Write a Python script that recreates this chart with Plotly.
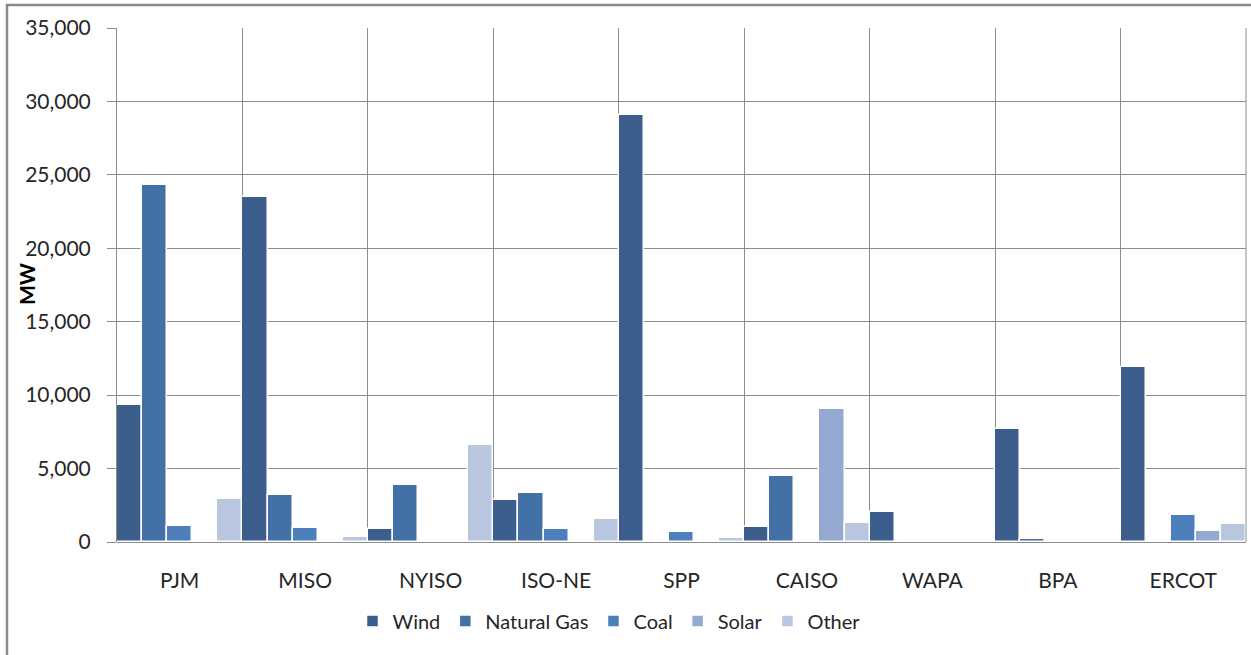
import plotly.graph_objects as go

regions = ["PJM", "MISO", "NYISO", "ISO-NE", "SPP", "CAISO", "WAPA", "BPA", "ERCOT"]
wind        = [9300, 23500, 870, 2860, 29100, 1040, 2020, 7670, 11900]
natural_gas = [24300, 3200, 3860, 3360, 0, 4520, 0, 180, 0]
coal        = [1100, 930, 0, 870, 700, 0, 0, 0, 1840]
solar       = [0, 0, 0, 0, 0, 9080, 0, 0, 770]
other       = [2950, 350, 6580, 1550, 290, 1290, 0, 80, 1200]

series = [
    ("Wind", wind, "#3B5E8C"),
    ("Natural Gas", natural_gas, "#4371A6"),
    ("Coal", coal, "#4D7FBD"),
    ("Solar", solar, "#94A9D1"),
    ("Other", other, "#B8C6E0"),
]

FONT = "Lato, 'Open Sans', sans-serif"

fig = go.Figure()
for name, vals, color in series:
    fig.add_trace(go.Bar(
        name=name, x=regions, y=vals,
        marker=dict(color=color, line=dict(color="white", width=1.5)),
    ))

W, H = 1251, 655
L, R, T, B = 117, 5, 28, 113
pw, ph = W - L - R, H - T - B

def px_x(x):
    return (x - L) / pw

def px_y(y):
    return (H - B - y) / ph

fig.update_layout(
    width=W, height=H,
    margin=dict(l=L, r=R, t=T, b=B, pad=0),
    paper_bgcolor="white", plot_bgcolor="white",
    barmode="group", bargap=0, bargroupgap=0,
    font=dict(family=FONT, size=21, color="#262626"),
    legend=dict(
        orientation="h", x=px_x(609), xanchor="center",
        y=px_y(621), yanchor="middle",
        font=dict(size=20, color="#262626"),
        itemwidth=30, traceorder="normal",
    ),
    xaxis=dict(
        type="category", tickson="boundaries",
        showgrid=True, gridcolor="#8C8C8C", gridwidth=1,
        showline=False, ticks="", ticklabelstandoff=24,
        tickfont=dict(size=21, color="#262626"),
    ),
    yaxis=dict(
        range=[0, 35000], dtick=5000, tickformat=",",
        showgrid=True, gridcolor="#8C8C8C", gridwidth=1,
        showline=True, linecolor="#8C8C8C", linewidth=1,
        ticks="outside", ticklen=9, tickcolor="#8C8C8C",
        ticklabelstandoff=12,
        tickfont=dict(size=21, color="#262626"),
        zeroline=True, zerolinecolor="#8C8C8C", zerolinewidth=1,
    ),
    annotations=[
        dict(text="<b>MW</b>", xref="paper", yref="paper",
             x=px_x(26), y=px_y(284), xanchor="center", yanchor="middle",
             textangle=-90, showarrow=False,
             font=dict(size=21, color="#000000", family=FONT)),
    ],
    shapes=[
        dict(type="rect", xref="paper", yref="paper",
             x0=px_x(7), x1=px_x(1262), y0=px_y(5), y1=px_y(670),
             line=dict(color="#8A8A8A", width=2.5), layer="below"),
        dict(type="line", xref="paper", yref="paper",
             x0=px_x(1246), x1=px_x(1246), y0=0, y1=1,
             line=dict(color="#8C8C8C", width=1)),
    ],
)

fig.write_html("out.html", config={"displayModeBar": False},
               post_script="document.body.style.margin='0px';")
